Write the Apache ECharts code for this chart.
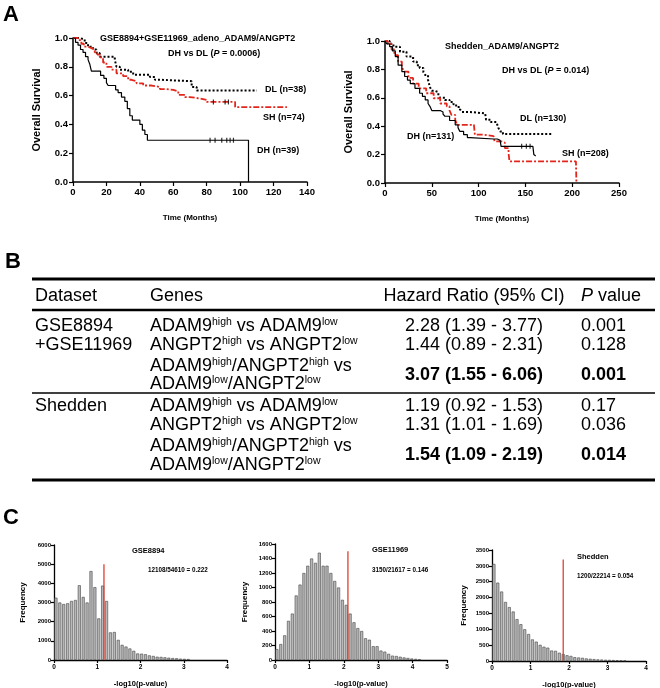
<!DOCTYPE html>
<html>
<head>
<meta charset="utf-8">
<title>ADAM9/ANGPT2 survival</title>
<script src="https://cdn.jsdelivr.net/npm/echarts@6/dist/echarts.min.js"></script>
<style>
    html, body { margin: 0; padding: 0; background: #fff; }
    #main { width: 660px; height: 688px; }
</style>
</head>
<body>
<div id="main"></div>
<script>
const FONT = '"Liberation Sans", Arial, Helvetica, sans-serif';

// ---- A: Kaplan-Meier curves, [month, overall survival] ----
const gseDL = [[0,1],[4,0.99],[7,0.965],[9,0.94],[12,0.92],[14,0.895],[16,0.87],[25,0.85],[26,0.80],[28,0.78],[33,0.765],[36,0.745],[46,0.73],[49,0.71],[52,0.70],[71,0.66],[74,0.635],[110,0.635]];
const gseSH = [[0,1],[3,0.985],[5,0.96],[6.5,0.94],[9,0.93],[11,0.92],[13,0.90],[14.5,0.885],[16,0.865],[18,0.83],[20,0.80],[23,0.78],[26,0.755],[30,0.735],[33,0.71],[35,0.70],[38,0.685],[42,0.67],[47,0.66],[52,0.645],[56,0.64],[60,0.63],[63,0.605],[67,0.59],[70,0.58],[76,0.57],[80,0.556],[97,0.52],[128,0.52]];
const gseDH = [[0,1],[1.5,0.97],[3,0.95],[4.5,0.92],[6,0.90],[7.5,0.87],[9,0.85],[10,0.82],[11,0.77],[16.5,0.74],[18.5,0.72],[20,0.69],[21,0.67],[25.5,0.64],[27,0.62],[29,0.59],[31,0.56],[32.5,0.51],[34,0.46],[35.5,0.43],[40,0.40],[41.5,0.36],[43,0.33],[44.5,0.29],[105,0]];
const gseCensorDH = [82, 85, 89, 92, 94, 96];
const gseCensorSH = [84, 91, 93];

const shedDL = [[0,1],[5,0.98],[9,0.96],[16,0.925],[23,0.89],[30,0.855],[34,0.83],[37,0.81],[41,0.78],[43,0.76],[46,0.725],[48,0.675],[50,0.65],[53,0.64],[57,0.615],[59,0.60],[64,0.585],[69,0.57],[73,0.555],[76,0.535],[80,0.52],[82,0.50],[91,0.49],[107,0.49],[108,0.445],[113,0.43],[119,0.42],[121,0.39],[123,0.363],[126,0.345],[178,0.345]];
const shedSH = [[0,1],[3,0.98],[7,0.94],[10,0.90],[14,0.855],[18,0.82],[20,0.785],[25,0.74],[30,0.70],[36,0.667],[44,0.632],[52,0.597],[59,0.56],[66,0.54],[69,0.51],[71,0.48],[75,0.445],[77,0.41],[95,0.41],[96,0.34],[105,0.33],[116,0.316],[117,0.293],[124,0.285],[128,0.246],[132,0.21],[133,0.152],[204,0.152],[204.5,0]];
const shedDH = [[0,1],[2,0.98],[5,0.96],[8,0.93],[11,0.89],[14,0.83],[18,0.785],[21,0.75],[24,0.725],[27,0.70],[32,0.667],[37,0.632],[40,0.61],[43,0.585],[46,0.56],[48,0.54],[50,0.51],[59,0.50],[62,0.485],[64,0.47],[69,0.44],[75,0.41],[78,0.39],[80,0.363],[84,0.34],[88,0.32],[91,0.31],[116,0.31],[120,0.30],[123,0.29],[124,0.258],[158,0.258],[159,0.20],[161,0.19]];
const shedCensorDH = [146, 151, 155];

// ---- B: hazard ratio table ----
const tableHeader = ['Dataset', 'Genes', 'Hazard Ratio (95% CI)', '{i|P} value'];
const tableRows = [
    { dataset: 'GSE8894', genes: ['ADAM9{s|high} vs ADAM9{s|low}'], hr: '2.28 (1.39 - 3.77)', p: '0.001', bold: false },
    { dataset: '+GSE11969', genes: ['ANGPT2{s|high} vs ANGPT2{s|low}'], hr: '1.44 (0.89 - 2.31)', p: '0.128', bold: false },
    { dataset: '', genes: ['ADAM9{s|high}/ANGPT2{s|high} vs', 'ADAM9{s|low}/ANGPT2{s|low}'], hr: '3.07 (1.55 - 6.06)', p: '0.001', bold: true },
    { dataset: 'Shedden', genes: ['ADAM9{s|high} vs ADAM9{s|low}'], hr: '1.19 (0.92 - 1.53)', p: '0.17', bold: false },
    { dataset: '', genes: ['ANGPT2{s|high} vs ANGPT2{s|low}'], hr: '1.31 (1.01 - 1.69)', p: '0.036', bold: false },
    { dataset: '', genes: ['ADAM9{s|high}/ANGPT2{s|high} vs', 'ADAM9{s|low}/ANGPT2{s|low}'], hr: '1.54 (1.09 - 2.19)', p: '0.014', bold: true }
];

// ---- C: -log10(p) histograms ----
const histNames = ['GSE8894', 'GSE11969', 'Shedden'];
const histRatios = ['12108/54610 = 0.222', '3150/21617 = 0.146', '1200/22214 = 0.054'];
const gse8894Counts = [3250,3000,2920,2960,3080,3130,3900,3290,3000,4640,3800,2170,3880,3080,1440,1460,1050,790,700,600,480,340,330,300,240,210,170,160,140,120,100,90,70,60,50];
const gse11969Counts = [150,220,340,540,640,890,1040,1200,1300,1400,1340,1480,1300,1300,1200,1090,1000,830,760,640,520,440,400,300,280,190,190,130,115,85,60,55,45,35,28,20,15,10];
const sheddenCounts = [3060,2470,2190,1860,1700,1560,1320,1160,1000,850,680,610,510,450,420,330,320,260,220,180,160,120,110,100,80,70,60,50,45,40,35,30,25,20,15];
const histBinWidth = [0.09, 0.112, 0.1];
const cutoff = [1.155, 2.12, 1.85];
const cutoffTop = [5000, 1500, 3200];

// ------------------------------------------------------------
function stepValue(curve, t) {
    let v = curve[0][1];
    curve.forEach(p => { if (p[0] <= t) v = p[1]; });
    return v;
}

function axisStyle(fs) {
    return {
        axisLine: { show: true, onZero: false, lineStyle: { color: '#000', width: 1.5 } },
        axisTick: { show: true, inside: false, length: 4, lineStyle: { color: '#000', width: 1.2 } },
        axisLabel: { color: '#000', fontFamily: FONT, fontWeight: 'bold', fontSize: fs, margin: 5 },
        splitLine: { show: false }
    };
}

function nameStyle(fs) {
    return { color: '#000', fontFamily: FONT, fontWeight: 'bold', fontSize: fs };
}

const kmLine = {
    DL: { color: '#000', width: 2, type: [2, 2] },
    SH: { color: '#e3261b', width: 1.8, type: [6, 2, 2, 2] },
    DH: { color: '#000', width: 1.2, type: 'solid' }
};

function kmSeries(idx, data, kind) {
    return {
        type: 'line', xAxisIndex: idx, yAxisIndex: idx, data: data, step: 'end',
        symbol: 'none', silent: true, lineStyle: kmLine[kind], z: kind === 'DH' ? 3 : 2
    };
}

function censorSeries(idx, curve, times) {
    return {
        type: 'scatter', xAxisIndex: idx, yAxisIndex: idx, symbol: 'rect', symbolSize: [1.2, 5],
        itemStyle: { color: '#000' }, silent: true,
        data: times.map(t => [t, stepValue(curve, t)])
    };
}

function txt(x, y, text, opt) {
    return {
        type: 'text', x: x, y: y, silent: true,
        style: Object.assign({
            text: text, fill: '#000', fontFamily: FONT, fontSize: 9, fontWeight: 'bold',
            align: 'left', verticalAlign: 'middle'
        }, opt || {})
    };
}

function hline(x1, x2, y, w) {
    return { type: 'line', silent: true, shape: { x1: x1, y1: y, x2: x2, y2: y }, style: { stroke: '#000', lineWidth: w } };
}

// ---- grids & axes ----
const grids = [
    { left: 73, top: 38, width: 234, height: 144 },
    { left: 385, top: 41, width: 234, height: 142 },
    { left: 54, top: 545, width: 173, height: 115 },
    { left: 275, top: 544, width: 172, height: 116 },
    { left: 492, top: 550, width: 154, height: 111 }
];

const xAxes = [
    Object.assign(axisStyle(9.5), { gridIndex: 0, type: 'value', min: 0, max: 140, interval: 20,
        name: 'Time (Months)', nameLocation: 'middle', nameGap: 32, nameTextStyle: nameStyle(8) }),
    Object.assign(axisStyle(9.5), { gridIndex: 1, type: 'value', min: 0, max: 250, interval: 50,
        name: 'Time (Months)', nameLocation: 'middle', nameGap: 32, nameTextStyle: nameStyle(8) }),
    Object.assign(axisStyle(6.5), { gridIndex: 2, type: 'value', min: 0, max: 4, interval: 1,
        name: '-log10(p-value)', nameLocation: 'middle', nameGap: 20, nameTextStyle: nameStyle(7.5) }),
    Object.assign(axisStyle(6.5), { gridIndex: 3, type: 'value', min: 0, max: 5, interval: 1,
        name: '-log10(p-value)', nameLocation: 'middle', nameGap: 20, nameTextStyle: nameStyle(7.5) }),
    Object.assign(axisStyle(6.5), { gridIndex: 4, type: 'value', min: 0, max: 4, interval: 1,
        name: '-log10(p-value)', nameLocation: 'middle', nameGap: 20, nameTextStyle: nameStyle(7.5) })
];
xAxes.forEach((a, i) => { if (i >= 2) { a.axisTick.length = 3; a.axisLabel.margin = 4; a.axisLine.lineStyle.width = 1.3; } });

const yKm = i => Object.assign(axisStyle(9.5), { gridIndex: i, type: 'value', min: 0, max: 1, interval: 0.2,
    name: 'Overall Survival', nameLocation: 'middle', nameGap: 31, nameTextStyle: nameStyle(11) });
const yAxes = [yKm(0), yKm(1),
    Object.assign(axisStyle(6), { gridIndex: 2, type: 'value', min: 0, max: 6000, interval: 1000,
        name: 'Frequency', nameLocation: 'middle', nameGap: 27, nameTextStyle: nameStyle(8) }),
    Object.assign(axisStyle(6), { gridIndex: 3, type: 'value', min: 0, max: 1600, interval: 200,
        name: 'Frequency', nameLocation: 'middle', nameGap: 26, nameTextStyle: nameStyle(8) }),
    Object.assign(axisStyle(6), { gridIndex: 4, type: 'value', min: 0, max: 3500, interval: 500,
        name: 'Frequency', nameLocation: 'middle', nameGap: 24, nameTextStyle: nameStyle(8) })
];
yAxes[0].axisLabel.formatter = v => v.toFixed(1);
yAxes[1].axisLabel.formatter = v => v.toFixed(1);
yAxes.forEach((a, i) => {
    if (i >= 2) {
        a.axisTick.length = 3; a.axisLabel.margin = 3; a.axisLine.lineStyle.width = 1.3;
        a.axisLabel.formatter = v => String(v);
    }
});
xAxes.forEach(a => { a.axisLabel.formatter = v => String(v); });

// ---- series ----
const series = [
    kmSeries(0, gseDL, 'DL'), kmSeries(0, gseSH, 'SH'), kmSeries(0, gseDH, 'DH'),
    censorSeries(0, gseDH, gseCensorDH), censorSeries(0, gseSH, gseCensorSH),
    kmSeries(1, shedDL, 'DL'), kmSeries(1, shedSH, 'SH'), kmSeries(1, shedDH, 'DH'),
    censorSeries(1, shedDH, shedCensorDH)
];

[gse8894Counts, gse11969Counts, sheddenCounts].forEach((counts, k) => {
    const idx = k + 2;
    series.push({
        type: 'bar', xAxisIndex: idx, yAxisIndex: idx, barWidth: 3, silent: true,
        itemStyle: { color: '#b8b8b8', borderColor: '#444', borderWidth: 0.6 },
        data: counts.map((c, i) => [(i + 0.5) * histBinWidth[k], c])
    });
    series.push({
        type: 'line', xAxisIndex: idx, yAxisIndex: idx, symbol: 'none', silent: true, z: 5,
        lineStyle: { color: '#e0402e', width: 1.3 },
        data: [[cutoff[k], 0], [cutoff[k], cutoffTop[k]]]
    });
});

// ---- annotations & table ----
const richItalic = { i: { fontStyle: 'italic', fontWeight: 'bold', fontSize: 9, fontFamily: FONT } };
const graphics = [
    txt(3, 15, 'A', { fontSize: 22 }),
    txt(5, 262, 'B', { fontSize: 22 }),
    txt(3, 518, 'C', { fontSize: 22 }),

    txt(100, 39, 'GSE8894+GSE11969_adeno_ADAM9/ANGPT2'),
    txt(168, 54, 'DH vs DL ({i|P} = 0.0006)', { rich: richItalic }),
    txt(265, 90, 'DL (n=38)'),
    txt(263, 118, 'SH (n=74)'),
    txt(257, 151, 'DH (n=39)'),

    txt(445, 47, 'Shedden_ADAM9/ANGPT2'),
    txt(502, 71, 'DH vs DL ({i|P} = 0.014)', { rich: richItalic }),
    txt(520, 119, 'DL (n=130)'),
    txt(407, 137, 'DH (n=131)'),
    txt(562, 154, 'SH (n=208)')
];

const histTitlePos = [[132, 551], [372, 550], [577, 557]];
const histRatioPos = [[148, 570], [372, 570], [577, 576]];
histNames.forEach((n, k) => {
    graphics.push(txt(histTitlePos[k][0], histTitlePos[k][1], n, { fontSize: 7.5 }));
    graphics.push(txt(histRatioPos[k][0], histRatioPos[k][1], histRatios[k], { fontSize: 6.3 }));
});

// table layout
const TFS = 18;
const colX = [35, 150, 474, 581];
const richT = {
    s: { fontSize: 10.5, verticalAlign: 'top', fontFamily: FONT, fill: '#000' },
    i: { fontSize: TFS, fontStyle: 'italic', fontFamily: FONT, fill: '#000' }
};
const tStyle = extra => Object.assign({ fontSize: TFS, fontWeight: 'normal', rich: richT }, extra || {});

graphics.push(hline(32, 655, 279, 3));
graphics.push(hline(32, 655, 310, 2.5));
graphics.push(hline(32, 655, 393, 1.5));
graphics.push(hline(32, 655, 480, 3));

const headY = 296;
graphics.push(txt(colX[0], headY, tableHeader[0], tStyle()));
graphics.push(txt(colX[1], headY, tableHeader[1], tStyle()));
graphics.push(txt(colX[2], headY, tableHeader[2], tStyle({ align: 'center' })));
graphics.push(txt(colX[3], headY, tableHeader[3], tStyle()));

const rowY = [326, 345, [366, 384], 406, 425, [446, 465]];
tableRows.forEach((r, i) => {
    const y = rowY[i];
    const mid = Array.isArray(y) ? (y[0] + y[1]) / 2 : y;
    if (r.dataset) graphics.push(txt(colX[0], mid, r.dataset, tStyle()));
    r.genes.forEach((g, j) => {
        graphics.push(txt(colX[1], Array.isArray(y) ? y[j] : y, g, tStyle()));
    });
    const w = r.bold ? 'bold' : 'normal';
    graphics.push(txt(colX[2], mid, r.hr, tStyle({ align: 'center', fontWeight: w })));
    graphics.push(txt(colX[3], mid, r.p, tStyle({ fontWeight: w })));
});

const chart = echarts.init(document.getElementById('main'), null, { renderer: 'canvas' });
chart.setOption({
    animation: false,
    backgroundColor: '#fff',
    grid: grids.map(g => Object.assign({ outerBoundsMode: 'none', containLabel: false }, g)),
    xAxis: xAxes,
    yAxis: yAxes,
    series: series,
    graphic: graphics
});
</script>
</body>
</html>
